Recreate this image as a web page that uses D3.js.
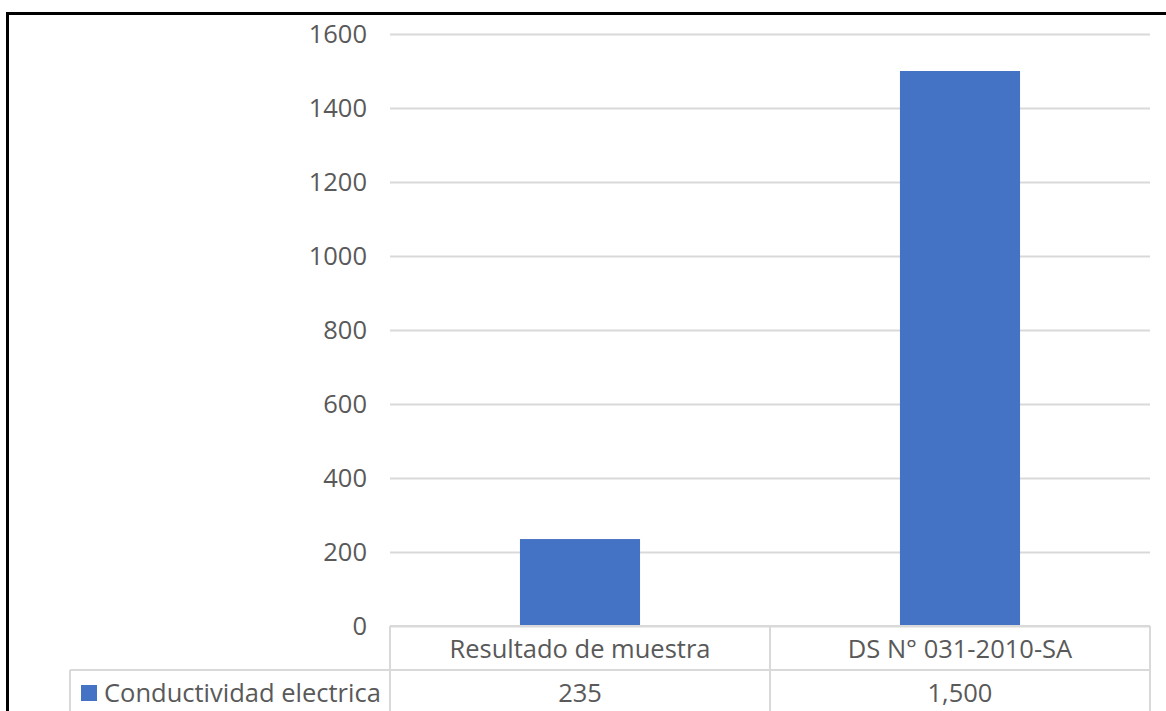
<!DOCTYPE html>
<html>
<head>
<meta charset="utf-8">
<script src="https://cdn.jsdelivr.net/npm/d3@7"></script>
<style>
  html, body { margin: 0; padding: 0; background: #fff; }
  svg { display: block; }
  text { font-family: "Open Sans", "Noto Sans", sans-serif; fill: #595959; }
</style>
</head>
<body>
<svg id="chart" width="1166" height="711"></svg>
<script>
// Conductividad eléctrica: muestra vs. límite DS N° 031-2010-SA
const categories = ["Resultado de muestra", "DS N° 031-2010-SA"];
const seriesName = "Conductividad electrica";
const values = [235, 1500];
const valueLabels = ["235", "1,500"];
const yTicks = [0, 200, 400, 600, 800, 1000, 1200, 1400, 1600];

const svg = d3.select("#chart");
const W = 1166, H = 711;
const plot = { left: 390, right: 1150, top: 34, bottom: 626 };
const rowH = 44;
const legendLeft = 70;
const barColor = "#4472C4";
const gridColor = "#D9D9D9";
const fontSize = 25.5;

const x = d3.scaleBand()
  .domain(categories)
  .range([plot.left, plot.right])
  .paddingInner(0.684)
  .paddingOuter(0.342);

const xCell = d3.scaleBand()
  .domain(categories)
  .range([plot.left, plot.right])
  .padding(0);

const y = d3.scaleLinear()
  .domain([0, 1600])
  .range([plot.bottom, plot.top]);

// gridlines + y labels
const yAxis = d3.axisLeft(y)
  .tickValues(yTicks)
  .tickSize(-(plot.right - plot.left))
  .tickPadding(23)
  .tickFormat(d3.format("d"));

const gy = svg.append("g")
  .attr("transform", `translate(${plot.left},0)`)
  .call(yAxis);
gy.select(".domain").remove();
gy.selectAll(".tick line").attr("stroke", gridColor).attr("stroke-width", 2);
gy.selectAll(".tick text")
  .attr("font-size", fontSize)
  .attr("fill", "#595959")
  .style("font-family", '"Open Sans", "Noto Sans", sans-serif');

// bars
svg.append("g").selectAll("rect")
  .data(values)
  .join("rect")
  .attr("x", (d, i) => x(categories[i]))
  .attr("y", d => y(d))
  .attr("width", x.bandwidth())
  .attr("height", d => y(0) - y(d))
  .attr("fill", barColor);

// data table grid
const table = svg.append("g").attr("stroke", gridColor).attr("stroke-width", 2).attr("fill", "none");
table.append("line").attr("x1", plot.left).attr("x2", plot.right).attr("y1", plot.bottom).attr("y2", plot.bottom);
table.append("line").attr("x1", legendLeft).attr("x2", plot.right).attr("y1", plot.bottom + rowH).attr("y2", plot.bottom + rowH);
table.append("line").attr("x1", legendLeft).attr("x2", plot.right).attr("y1", plot.bottom + 2 * rowH).attr("y2", plot.bottom + 2 * rowH);
const vx = [plot.left, ...categories.map(c => xCell(c) + xCell.bandwidth())];
vx.forEach(v => {
  table.append("line").attr("x1", v).attr("x2", v).attr("y1", plot.bottom).attr("y2", plot.bottom + 2 * rowH);
});
table.append("line").attr("x1", legendLeft).attr("x2", legendLeft).attr("y1", plot.bottom + rowH).attr("y2", plot.bottom + 2 * rowH);

// header labels
svg.append("g").selectAll("text")
  .data(categories)
  .join("text")
  .attr("x", d => xCell(d) + xCell.bandwidth() / 2)
  .attr("y", plot.bottom + rowH / 2 + 1)
  .attr("dy", "0.35em")
  .attr("text-anchor", "middle")
  .attr("font-size", fontSize)
  .text(d => d);

// value row
svg.append("g").selectAll("text")
  .data(valueLabels)
  .join("text")
  .attr("x", (d, i) => xCell(categories[i]) + xCell.bandwidth() / 2)
  .attr("y", plot.bottom + rowH * 1.5 + 1)
  .attr("dy", "0.35em")
  .attr("text-anchor", "middle")
  .attr("font-size", fontSize)
  .text(d => d);

// legend key in the table
svg.append("rect")
  .attr("x", legendLeft + 11).attr("y", plot.bottom + rowH * 1.5 - 7)
  .attr("width", 16).attr("height", 16)
  .attr("fill", barColor);
svg.append("text")
  .attr("x", legendLeft + 34)
  .attr("y", plot.bottom + rowH * 1.5 + 1)
  .attr("dy", "0.35em")
  .attr("font-size", fontSize)
  .text(seriesName);

// outer frame
svg.append("path")
  .attr("d", `M${W},13.5 H7.5 V${H}`)
  .attr("fill", "none")
  .attr("stroke", "#000")
  .attr("stroke-width", 3);
</script>
</body>
</html>
